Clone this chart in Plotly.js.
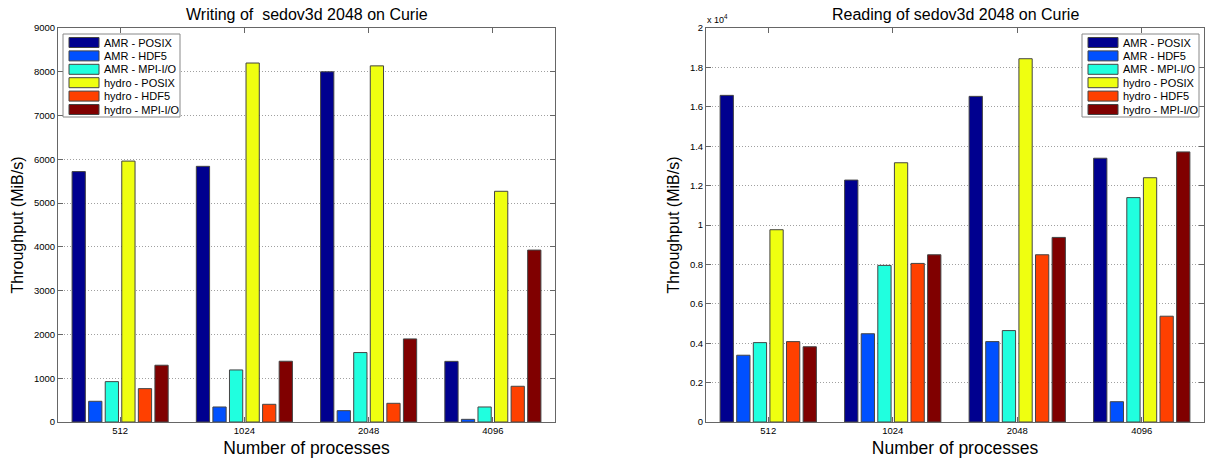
<!DOCTYPE html>
<html>
<head>
<meta charset="utf-8">
<script src="https://cdn.plot.ly/plotly-3.0.1.min.js"></script>
<style>html,body{margin:0;padding:0;background:#fff;} #chart{width:1213px;height:461px;}</style>
</head>
<body>
<div id="chart"></div>
<script>
// ---- data ----
const categories = ['512', '1024', '2048', '4096'];
const seriesNames = ['AMR - POSIX', 'AMR - HDF5', 'AMR - MPI-I/O', 'hydro - POSIX', 'hydro - HDF5', 'hydro - MPI-I/O'];
const seriesColors = ['#00008F', '#0050FF', '#20FFDF', '#EFFF10', '#FF4000', '#800000'];

// Writing throughput (MiB/s)
const writeAMRPosix   = [5720, 5840, 8000, 1385];
const writeAMRHdf5    = [473, 343, 259, 61];
const writeAMRMpiio   = [922, 1189, 1586, 343];
const writeHydroPosix = [5960, 8200, 8135, 5270];
const writeHydroHdf5  = [762, 404, 427, 816];
const writeHydroMpiio = [1297, 1388, 1898, 3927];

// Reading throughput (MiB/s)
const readAMRPosix   = [16580, 12280, 16530, 13390];
const readAMRHdf5    = [3390, 4480, 4080, 1030];
const readAMRMpiio   = [4030, 7950, 4640, 11390];
const readHydroPosix = [9760, 13160, 18440, 12400];
const readHydroHdf5  = [4080, 8050, 8490, 5370];
const readHydroMpiio = [3820, 8490, 9370, 13710];

const writeTickVals = [0, 1000, 2000, 3000, 4000, 5000, 6000, 7000, 8000, 9000];
const readTickVals  = [0, 2000, 4000, 6000, 8000, 10000, 12000, 14000, 16000, 18000, 20000];
const readTickText  = ['0', '0.2', '0.4', '0.6', '0.8', '1', '1.2', '1.4', '1.6', '1.8', '2'];

const writeSeries = [writeAMRPosix, writeAMRHdf5, writeAMRMpiio, writeHydroPosix, writeHydroHdf5, writeHydroMpiio];
const readSeries  = [readAMRPosix, readAMRHdf5, readAMRMpiio, readHydroPosix, readHydroHdf5, readHydroMpiio];

// ---- build ----
const W = 1213, H = 461;
const px = v => v / W;
const py = v => 1 - v / H;
const FONT = 'Liberation Sans, Arial, Helvetica, sans-serif';

const traces = [];
writeSeries.forEach((vals, i) => {
  traces.push({type: 'bar', x: categories, y: vals, name: seriesNames[i], xaxis: 'x', yaxis: 'y',
    marker: {color: seriesColors[i], line: {color: '#444', width: 1}}, showlegend: false, hoverinfo: 'x+y'});
});
readSeries.forEach((vals, i) => {
  traces.push({type: 'bar', x: categories, y: vals, name: seriesNames[i], xaxis: 'x2', yaxis: 'y2',
    marker: {color: seriesColors[i], line: {color: '#444', width: 1}}, showlegend: false, hoverinfo: 'x+y'});
});

const axisBase = {
  showline: true, linecolor: '#666', linewidth: 1, mirror: 'ticks',
  ticks: 'inside', ticklen: 5, tickcolor: '#666', tickwidth: 1,
  tickfont: {size: 9.5, color: '#000', family: FONT}, zeroline: false
};
const xBase = Object.assign({}, axisBase, {
  type: 'category', range: [-0.5, 3.5], showgrid: false,
  title: {text: 'Number of processes', font: {size: 17.5, color: '#000', family: FONT}, standoff: 6}
});
const yBase = Object.assign({}, axisBase, {
  showgrid: true, gridcolor: '#a0a0a0', griddash: '1px,2px', gridwidth: 1,
  title: {text: 'Throughput (MiB/s)', font: {size: 16, color: '#000', family: FONT}, standoff: 6}
});

const yDom = [1 - 422 / H, 1 - 28 / H];

// custom legends
const shapes = [];
const annotations = [];
function addLegend(left, top) {
  const width = 117, pitch = 13.4, first = 8.5;
  const bottom = top + first + pitch * 5 + 7.5;
  shapes.push({type: 'rect', xref: 'paper', yref: 'paper', x0: px(left), x1: px(left + width), y0: py(bottom), y1: py(top),
    line: {color: '#888', width: 1}, fillcolor: '#fff', layer: 'above'});
  seriesNames.forEach((nm, i) => {
    const cy = top + first + pitch * i;
    shapes.push({type: 'rect', xref: 'paper', yref: 'paper', x0: px(left + 6), x1: px(left + 36), y0: py(cy + 5), y1: py(cy - 5),
      line: {color: '#444', width: 1}, fillcolor: seriesColors[i], layer: 'above'});
    annotations.push({xref: 'paper', yref: 'paper', x: px(left + 39), y: py(cy), xanchor: 'left', yanchor: 'middle',
      text: nm, showarrow: false, font: {size: 11, color: '#000', family: FONT}});
  });
}
addLegend(63, 34);
addLegend(1082, 34);

annotations.push({xref: 'paper', yref: 'paper', x: px(306.5), y: py(14), xanchor: 'center', yanchor: 'middle',
  text: 'Writing of\u00a0 sedov3d 2048 on Curie', showarrow: false, font: {size: 16, color: '#000', family: FONT}});
annotations.push({xref: 'paper', yref: 'paper', x: px(955), y: py(14), xanchor: 'center', yanchor: 'middle',
  text: 'Reading of sedov3d 2048 on Curie', showarrow: false, font: {size: 16, color: '#000', family: FONT}});
annotations.push({xref: 'paper', yref: 'paper', x: px(705), y: py(19), xanchor: 'left', yanchor: 'middle',
  text: 'x 10<sup>4</sup>', showarrow: false, font: {size: 9, color: '#000', family: FONT}});

const layout = {
  width: W, height: H,
  margin: {l: 0, r: 0, t: 0, b: 0},
  paper_bgcolor: '#fff', plot_bgcolor: '#fff',
  font: {family: FONT, color: '#000'},
  barmode: 'group', bargap: 0.2, bargroupgap: 0.2,
  showlegend: false,
  xaxis: Object.assign({}, xBase, {domain: [px(58), px(555)], anchor: 'y'}),
  yaxis: Object.assign({}, yBase, {domain: yDom, anchor: 'x', range: [0, 9000], tickvals: writeTickVals}),
  xaxis2: Object.assign({}, xBase, {domain: [px(706), px(1204)], anchor: 'y2'}),
  yaxis2: Object.assign({}, yBase, {domain: yDom, anchor: 'x2', range: [0, 20000], tickvals: readTickVals, ticktext: readTickText}),
  shapes: shapes,
  annotations: annotations
};

Plotly.newPlot('chart', traces, layout, {displayModeBar: false, staticPlot: true});
</script>
</body>
</html>
